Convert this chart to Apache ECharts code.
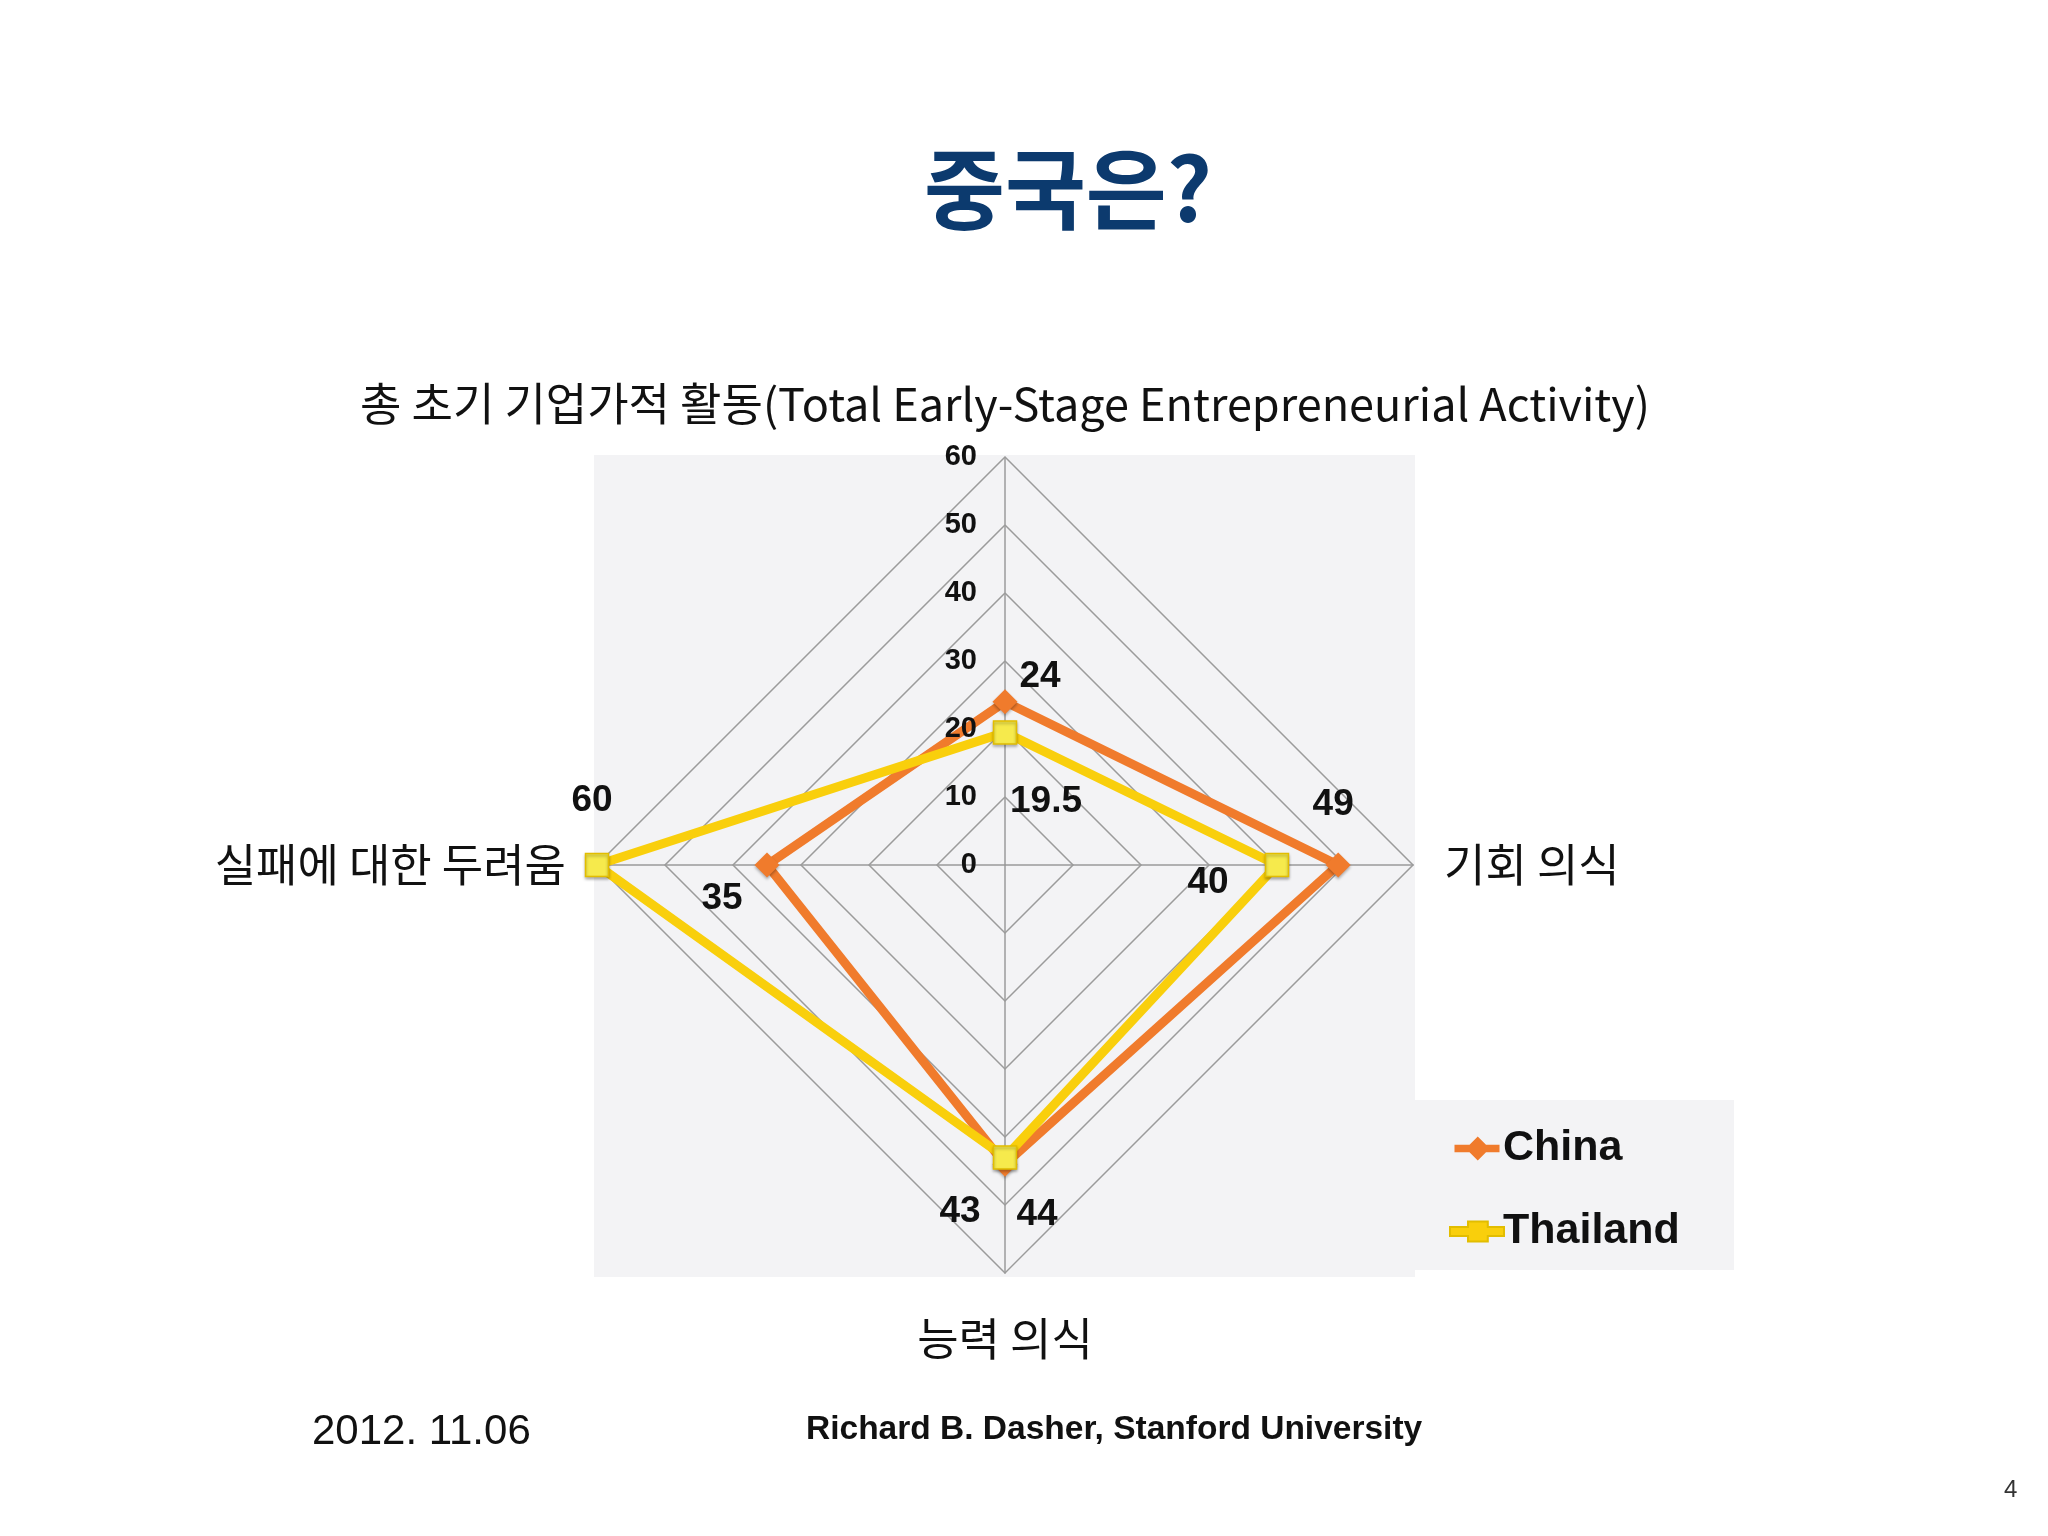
<!DOCTYPE html>
<html>
<head>
<meta charset="utf-8">
<script src="https://cdn.jsdelivr.net/npm/echarts@6/dist/echarts.min.js"></script>
<style>
  html, body { margin: 0; padding: 0; background: #fff; }
  #main { width: 2048px; height: 1536px; }
</style>
</head>
<body>
<div id="main"></div>
<script>
// radar goes counter-clockwise from the top: top, left, bottom, right
const indicatorNames = [
  '총 초기 기업가적 활동(Total Early-Stage Entrepreneurial Activity)',
  '실패에 대한 두려움',
  '능력 의식',
  '기회 의식'
]
const seriesNames = ['China', 'Thailand']
const chinaValues = [24, 35, 44, 49]
const thailandValues = [19.5, 60, 43, 40]
const axisMax = 60
const axisStep = 10

// where each value label sits relative to its point (same order as the values)
const labelOffsets = [
  [[35, -25], [-45, 34], [32, 51], [-5, -60]],
  [[41, 69], [-5, -64], [-45, 54], [-69, 18]]
]

const orange = '#f07b2c'
const yellow = '#f9cf0c'
const krFont = '"Noto Sans CJK KR", sans-serif'
const latFont = '"Liberation Sans", Arial, sans-serif'

const chinaIcon = 'path://M0,17 L20,17 L31,6 L42,17 L60,17 L60,27 L42,27 L31,38 L20,27 L0,27 Z'
const thaiIcon = 'path://M0,17 L20,17 L20,11 L42,11 L42,17 L60,17 L60,27 L42,27 L42,33 L20,33 L20,27 L0,27 Z'

const myChart = echarts.init(document.getElementById('main'))

const option = {
  backgroundColor: '#ffffff',
  title: {
    text: '중국은?',
    left: 1063,
    top: 140,
    textAlign: 'center',
    textStyle: {
      color: '#0c3a6e',
      fontSize: 88,
      fontWeight: 'bold',
      fontFamily: krFont
    }
  },
  graphic: [
    { type: 'rect', z: -10, shape: { x: 594, y: 455, width: 821, height: 822 }, style: { fill: '#f3f3f5' } },
    { type: 'rect', z: -10, shape: { x: 1415, y: 1100, width: 319, height: 170 }, style: { fill: '#f3f3f5' } },
    { type: 'text', left: 312, top: 1411, style: { text: '2012. 11.06', fontSize: 42, fontFamily: latFont, fill: '#111' } },
    { type: 'text', left: 806, top: 1413, style: { text: 'Richard B. Dasher, Stanford University', fontSize: 33.5, fontWeight: 'bold', fontFamily: latFont, fill: '#111' } },
    { type: 'text', left: 2004, top: 1478, style: { text: '4', fontSize: 24, fontFamily: latFont, fill: '#333' } }
  ],
  legend: {
    orient: 'vertical',
    left: 1444,
    top: 1122,
    itemWidth: 54,
    itemHeight: 24,
    itemGap: 40,
    textStyle: { fontSize: 43, fontWeight: 'bold', color: '#111', fontFamily: latFont, padding: [0, 0, 0, -6] },
    data: [
      { name: seriesNames[0], icon: chinaIcon, itemStyle: { color: orange } },
      { name: seriesNames[1], icon: thaiIcon, itemStyle: { color: yellow } }
    ]
  },
  grid: { left: 1005, top: 457, width: 1, height: 408, show: false },
  xAxis: { type: 'value', show: false },
  yAxis: {
    type: 'value',
    z: 10,
    min: 0,
    max: axisMax,
    interval: axisStep,
    axisLine: { show: false },
    axisTick: { show: false },
    splitLine: { show: false },
    axisLabel: { margin: 28, fontSize: 29, fontWeight: 'bold', color: '#111', fontFamily: latFont }
  },
  radar: {
    center: [1005, 865],
    radius: 408,
    startAngle: 90,
    shape: 'polygon',
    splitNumber: axisMax / axisStep,
    nameGap: 31,
    axisName: { color: '#111', fontSize: 45, fontFamily: krFont, padding: [12, 0, 0, 0] },
    indicator: indicatorNames.map((name) => ({ name: name, min: 0, max: axisMax })),
    splitLine: { lineStyle: { color: '#9b9b9b', width: 1.5 } },
    splitArea: { show: false },
    axisLine: { lineStyle: { color: '#9b9b9b', width: 1.5 } },
    axisTick: { show: false },
    axisLabel: { show: false }
  },
  series: [
    {
      type: 'radar',
      z: 2,
      symbol: 'diamond',
      symbolSize: 25,
      lineStyle: { color: orange, width: 9 },
      itemStyle: { color: orange, shadowColor: 'rgba(0,0,0,0.3)', shadowBlur: 3, shadowOffsetY: 2 },
      label: { show: true, position: 'inside', fontSize: 37, fontWeight: 'bold', color: '#111', fontFamily: latFont },
      data: [{ name: seriesNames[0], value: chinaValues }]
    },
    {
      type: 'radar',
      z: 3,
      symbol: 'rect',
      symbolSize: 23,
      lineStyle: { color: yellow, width: 9 },
      itemStyle: { color: '#f6ea4c', borderColor: '#e2bd00', borderWidth: 1.5, shadowColor: 'rgba(0,0,0,0.3)', shadowBlur: 3, shadowOffsetY: 2 },
      label: { show: true, position: 'inside', fontSize: 37, fontWeight: 'bold', color: '#111', fontFamily: latFont },
      data: [{ name: seriesNames[1], value: thailandValues }]
    }
  ]
}

const valueLists = [chinaValues, thailandValues]
option.series.forEach((s, si) => {
  s.labelLayout = (p) => {
    const i = valueLists[si].indexOf(Number(p.text))
    if (i < 0) return {}
    return { dx: labelOffsets[si][i][0], dy: labelOffsets[si][i][1] }
  }
})

myChart.setOption(option)
</script>
</body>
</html>
